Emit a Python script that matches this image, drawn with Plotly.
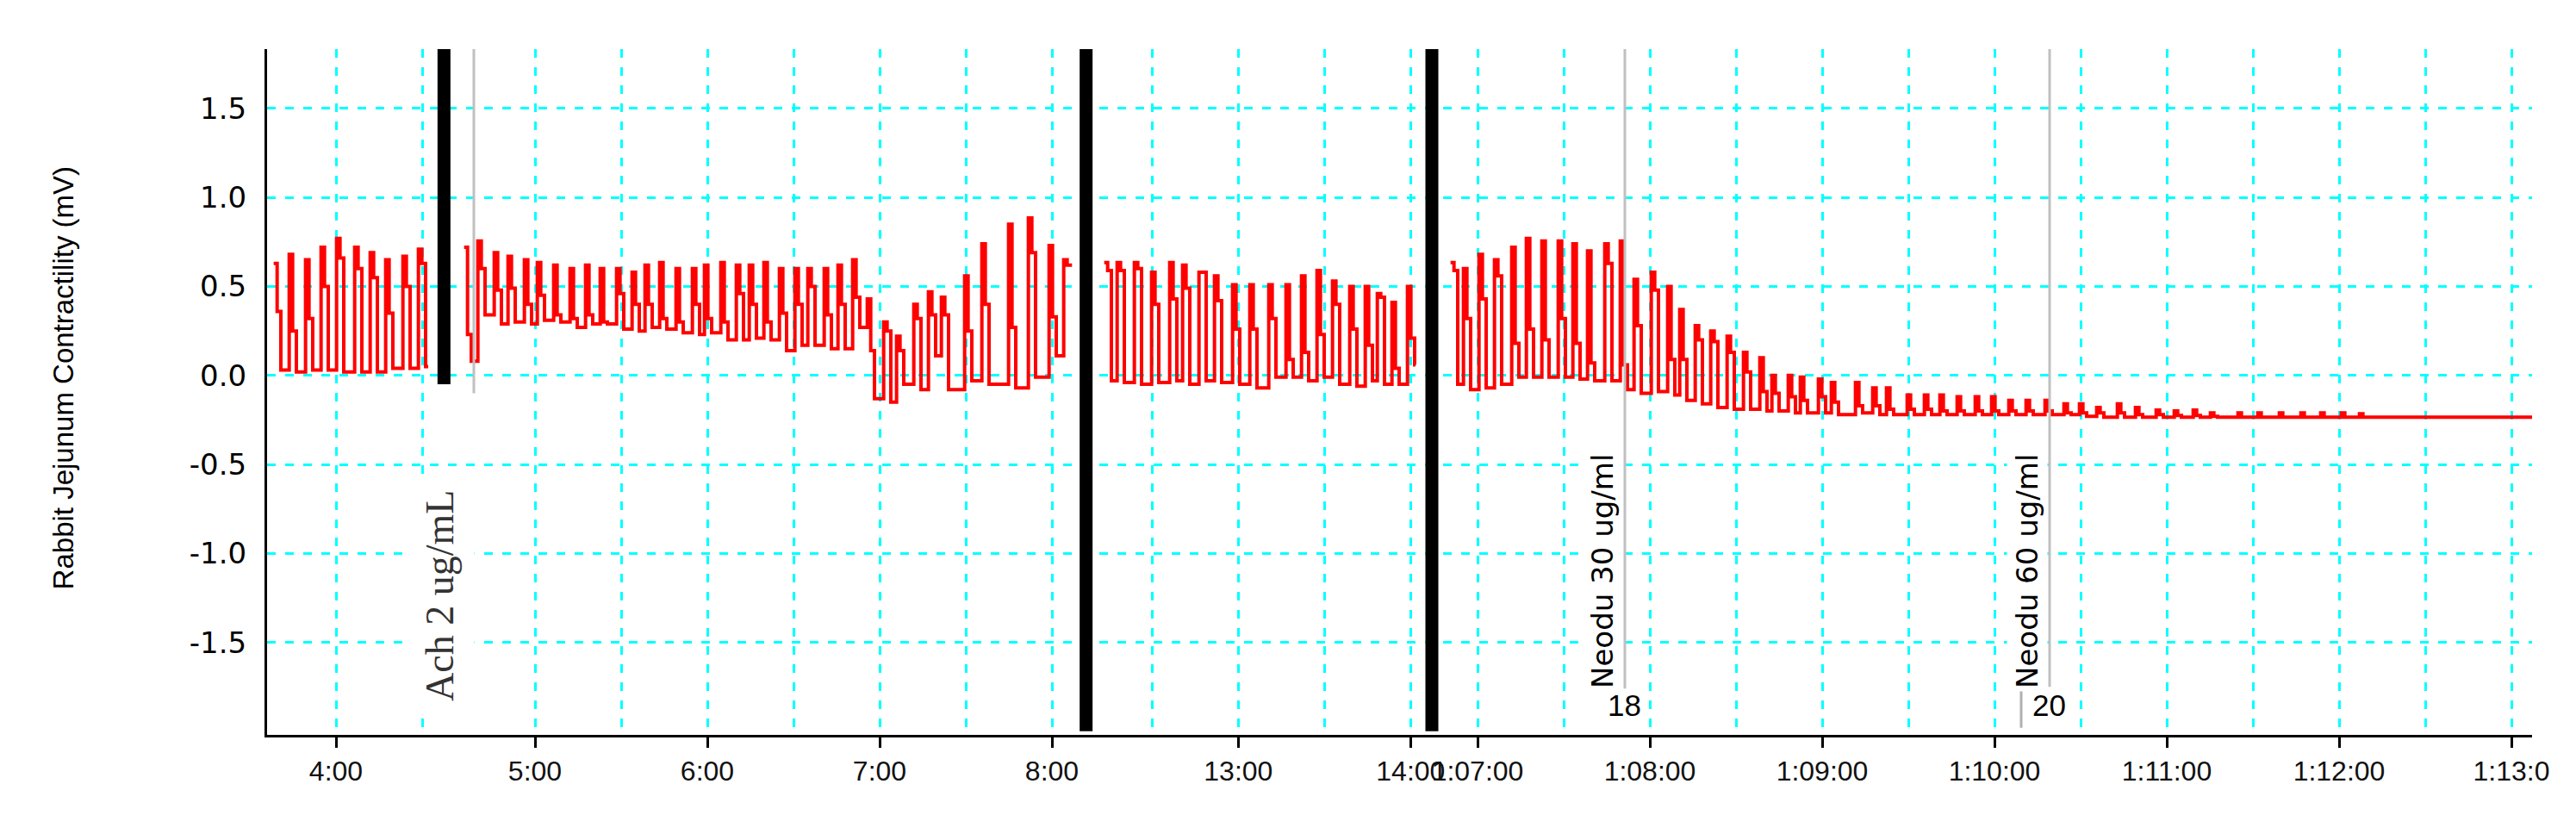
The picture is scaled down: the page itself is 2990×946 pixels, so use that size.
import plotly.graph_objects as go

# ---------------- data ----------------
# Recording segments on a broken time axis. For every contraction: clock time of
# the peak (s), peak amplitude, shoulder after the first fall, trough (mV).
a_peak_t = [219.0, 224.4, 230.1, 235.5, 240.9, 247.2, 252.6, 258.0, 264.0, 269.4]
a_peak_v = [0.63, 0.68, 0.65, 0.72, 0.77, 0.72, 0.69, 0.65, 0.67, 0.71]
a_mid_v = [0.36, 0.25, 0.32, 0.50, 0.66, 0.60, 0.55, 0.35, 0.50, 0.63]
a_low_v = [0.03, 0.02, 0.03, 0.03, 0.02, 0.02, 0.02, 0.04, 0.04, 0.05]

b_peak_t = [276.0, 280.8, 286.5, 291.3, 297.0, 301.5, 307.2, 312.9, 318.3, 323.4,
            329.1, 334.5, 339.0, 344.1, 349.8, 355.5, 359.7, 365.4, 370.8, 375.3,
            380.4, 385.8, 391.2, 395.7, 401.4, 406.2, 411.3, 416.4, 422.1, 426.6,
            432.6, 437.7, 442.2, 450.3, 456.3, 465.6, 472.5, 479.7, 484.8]
b_peak_v = [0.72, 0.756, 0.69, 0.67, 0.65, 0.635, 0.62, 0.60, 0.62, 0.60,
            0.60, 0.58, 0.62, 0.635, 0.60, 0.60, 0.62, 0.635, 0.62, 0.62,
            0.635, 0.60, 0.60, 0.60, 0.60, 0.62, 0.65, 0.43, 0.30, 0.22,
            0.40, 0.47, 0.44, 0.56, 0.74, 0.85, 0.885, 0.73, 0.65]
b_mid_v = [0.23, 0.60, 0.48, 0.49, 0.40, 0.45, 0.34, 0.32, 0.34, 0.30,
           0.46, 0.40, 0.40, 0.32, 0.30, 0.40, 0.32, 0.30, 0.46, 0.40,
           0.30, 0.35, 0.40, 0.50, 0.34, 0.40, 0.44, 0.14, 0.25, 0.14,
           0.32, 0.34, 0.34, 0.25, 0.40, 0.27, 0.69, 0.33, 0.62]
b_low_v = [0.08, 0.34, 0.29, 0.30, 0.29, 0.31, 0.30, 0.27, 0.29, 0.29,
           0.26, 0.25, 0.27, 0.26, 0.24, 0.23, 0.24, 0.20, 0.20, 0.21,
           0.20, 0.14, 0.17, 0.17, 0.15, 0.15, 0.27, -0.13, -0.15, -0.05,
           -0.08, 0.11, -0.08, -0.03, -0.05, -0.07, -0.01, 0.11, 0.62]

c_peak_t = [734.0, 738.5, 744.5, 750.5, 756.8, 761.3, 767.0, 772.4, 778.7, 784.7,
            791.3, 797.3, 802.7, 808.1, 813.5, 819.5, 824.9, 829.1, 834.2, 839.6]
c_peak_v = [0.635, 0.635, 0.635, 0.58, 0.635, 0.62, 0.58, 0.56, 0.51, 0.51,
            0.51, 0.51, 0.56, 0.59, 0.53, 0.50, 0.50, 0.46, 0.41, 0.50]
c_mid_v = [0.59, 0.59, 0.60, 0.40, 0.43, 0.49, 0.58, 0.42, 0.26, 0.26,
           0.32, 0.09, 0.13, 0.23, 0.40, 0.26, 0.17, 0.44, 0.04, 0.21]
c_low_v = [-0.03, -0.04, -0.05, -0.04, -0.03, -0.05, -0.03, -0.04, -0.05, -0.07,
           -0.01, -0.01, -0.03, -0.01, -0.05, -0.06, -0.03, -0.05, -0.05, 0.06]

d_peak_t = [4011.3, 4015.8, 4021.2, 4026.6, 4032.6, 4037.7, 4043.1, 4048.8, 4053.9, 4059.0,
            4065.0, 4070.4, 4075.2, 4081.2, 4086.9, 4091.1, 4096.5, 4101.9, 4107.6, 4113.3,
            4119.0, 4123.2, 4128.9, 4133.1, 4139.4, 4143.9, 4152.3, 4158.3, 4163.1, 4170.3,
            4176.3, 4181.7, 4187.7, 4194.0, 4199.7, 4205.7, 4211.7, 4218.3, 4224.9, 4230.3,
            4236.3, 4243.5, 4249.8, 4257.0, 4263.3, 4269.9, 4275.9, 4285.5, 4292.4, 4299.9,
            4307.4, 4314.3, 4321.5, 4327.8]
d_peak_v = [0.635, 0.60, 0.68, 0.65, 0.72, 0.77, 0.755, 0.755, 0.74, 0.70,
            0.74, 0.755, 0.54, 0.58, 0.50, 0.37, 0.28, 0.25, 0.22, 0.13,
            0.10, 0.0, 0.0, -0.01, -0.02, -0.04, -0.04, -0.07, -0.07, -0.11,
            -0.11, -0.11, -0.12, -0.12, -0.12, -0.14, -0.14, -0.14, -0.16, -0.16,
            -0.18, -0.16, -0.18, -0.195, -0.20, -0.195, -0.21, -0.21, -0.21, -0.21,
            -0.21, -0.21, -0.21, -0.215]
d_mid_v = [0.59, 0.32, 0.43, 0.56, 0.18, 0.26, 0.20, 0.32, 0.18, 0.07,
           0.63, 0.06, 0.28, 0.48, 0.09, 0.09, 0.20, 0.19, 0.13, 0.02,
           -0.09, -0.10, -0.12, -0.14, -0.12, -0.15, -0.17, -0.17, -0.19, -0.19,
           -0.19, -0.20, -0.20, -0.20, -0.20, -0.20, -0.20, -0.20, -0.21, -0.21,
           -0.21, -0.21, -0.22, -0.22, -0.225, -0.225, -0.23, -0.235, -0.235, -0.235,
           -0.235, -0.235, -0.235, -0.235]
d_low_v = [-0.05, -0.08, -0.07, -0.05, -0.01, -0.01, -0.01, -0.01, -0.02, -0.03,
           -0.03, -0.08, -0.10, -0.09, -0.11, -0.14, -0.16, -0.18, -0.19, -0.19,
           -0.20, -0.20, -0.21, -0.21, -0.21, -0.22, -0.21, -0.22, -0.22, -0.22,
           -0.22, -0.22, -0.22, -0.22, -0.22, -0.22, -0.22, -0.22, -0.22, -0.23,
           -0.235, -0.235, -0.235, -0.235, -0.235, -0.235, -0.235, -0.235, -0.235, -0.235,
           -0.235, -0.235, -0.235, -0.235]

segments = {
    "A": (a_peak_t, a_peak_v, a_mid_v, a_low_v),
    "B": (b_peak_t, b_peak_v, b_mid_v, b_low_v),
    "C": (c_peak_t, c_peak_v, c_mid_v, c_low_v),
    "D": (d_peak_t, d_peak_v, d_mid_v, d_low_v),
}
seg_end_t = {"A": 272.1, "B": 487.0, "C": 841.7, "D": 4387.2}      # clock s where trace stops
seg_offset = {"A": -216.0, "B": -206.7, "C": -441.8, "D": -3598.5}  # clock s -> compressed axis s
seg_break_t = {"A": 277.6, "B": 491.9, "C": 847.4}                 # cut after each segment
break_bottom = {"A": -0.05, "B": -2.0, "C": -2.0}

tick_labels = ["4:00", "5:00", "6:00", "7:00", "8:00", "13:00", "14:00",
               "1:07:00", "1:08:00", "1:09:00", "1:10:00", "1:11:00", "1:12:00", "1:13:0"]
tick_seg = ["A", "B", "B", "B", "B", "C", "C", "D", "D", "D", "D", "D", "D", "D"]
tick_clock_s = [240, 300, 360, 420, 480, 780, 840, 4020, 4080, 4140, 4200, 4260, 4320, 4380]
half_seg = ["A", "B", "B", "B", "C", "C", "D", "D", "D", "D", "D", "D"]
half_clock_s = [270, 330, 390, 450, 750, 810, 4050, 4110, 4170, 4230, 4290, 4350]

y_tick_vals = [-1.5, -1.0, -0.5, 0.0, 0.5, 1.0, 1.5]
y_tick_text = ["-1.5", "-1.0", "-0.5", "0.0", "0.5", "1.0", "1.5"]

dose_labels = ["Ach 2 ug/mL", "Neodu 30 ug/ml", "Neodu 60 ug/ml"]
dose_seg = ["B", "D", "D"]
dose_clock_s = [278.7, 4071.3, 4219.2]
dose_line_bottom = [-0.1, -1.76, -1.75]
dose_counter = [None, "18", "20"]

X_RANGE = [0.0, 788.7]
Y_RANGE = [-2.02, 1.834]

CYAN = "#00FFFF"
DASH = "10px,11px"

def disp(seg, t):
    return t + seg_offset[seg]

fig = go.Figure()

# trace: each contraction drawn as peak -> shoulder -> trough steps
for seg, (pt, pv, mv, lv) in segments.items():
    xs, ys = [], []
    for t, p, m, l in zip(pt, pv, mv, lv):
        xs += [disp(seg, t - 0.7), disp(seg, t + 0.5), disp(seg, t + 1.8)]
        ys += [p, m, l]
    xs.append(disp(seg, seg_end_t[seg]))
    ys.append(lv[-1])
    fig.add_trace(go.Scatter(x=xs, y=ys, mode="lines", line_shape="hv",
                             line=dict(color="#FF0000", width=4),
                             showlegend=False, hoverinfo="skip"))

shapes = []
# segment breaks
for seg, t in seg_break_t.items():
    xv = disp(seg, t)
    shapes.append(dict(type="line", xref="x", yref="y", x0=xv, x1=xv,
                       y0=break_bottom[seg], y1=Y_RANGE[1],
                       line=dict(color="black", width=15)))
# dose markers
annotations = []
for lab, seg, t, yb, cnt in zip(dose_labels, dose_seg, dose_clock_s, dose_line_bottom, dose_counter):
    xv = disp(seg, t)
    shapes.append(dict(type="line", xref="x", yref="y", x0=xv, x1=xv, y0=yb, y1=Y_RANGE[1],
                       line=dict(color="#C0C0C0", width=3)))
    if seg == "B":
        annotations.append(dict(x=xv, y=-1.24, xref="x", yref="y", text=lab, textangle=-90,
                                showarrow=False, xshift=-39, xanchor="center", yanchor="middle",
                                font=dict(family="Liberation Serif", size=46, color="#333333"),
                                bgcolor="white", borderpad=14))
    else:
        annotations.append(dict(x=xv, y=-1.10, xref="x", yref="y", text=lab, textangle=-90,
                                showarrow=False, xshift=-26, xanchor="center", yanchor="middle",
                                font=dict(family="DejaVu Sans", size=34, color="black"),
                                bgcolor="white", borderpad=3))
        annotations.append(dict(x=xv, y=-1.853, xref="x", yref="y", text=cnt,
                                showarrow=False, xshift=-1, xanchor="center", yanchor="middle",
                                font=dict(family="Liberation Sans", size=35, color="black")))
# small stub left of the second counter
shapes.append(dict(type="line", xref="x", yref="y", x0=disp("D", 4209.3), x1=disp("D", 4209.3),
                   y0=-1.75, y1=-1.98, line=dict(color="#B0B0B0", width=3)))

annotations.append(dict(x=-0.0901, y=0.521, xref="paper", yref="paper",
                        text="Rabbit Jejunum Contractility (mV)", textangle=-90,
                        showarrow=False, xanchor="center", yanchor="middle",
                        font=dict(family="Liberation Sans", size=33, color="black")))

tick_vals = [disp(s, t) for s, t in zip(tick_seg, tick_clock_s)]
half_vals = [disp(s, t) for s, t in zip(half_seg, half_clock_s)]

fig.update_layout(
    width=2990, height=946,
    margin=dict(l=302, r=59, t=49, b=101),
    paper_bgcolor="white", plot_bgcolor="white",
    showlegend=False,
    shapes=shapes, annotations=annotations,
    xaxis=dict(range=X_RANGE, tickmode="array", tickvals=tick_vals, ticktext=tick_labels,
               tickangle=0, showline=True, linecolor="black", linewidth=3,
               ticks="outside", ticklen=12, tickwidth=3, tickcolor="black",
               ticklabelstandoff=0,
               tickfont=dict(family="Liberation Sans", size=32, color="#111111"),
               showgrid=True, gridcolor=CYAN, gridwidth=3, griddash=DASH,
               minor=dict(tickmode="array", tickvals=half_vals, showgrid=True,
                          gridcolor=CYAN, gridwidth=3, griddash=DASH, ticks=""),
               zeroline=False, fixedrange=True),
    yaxis=dict(range=Y_RANGE, tickmode="array", tickvals=y_tick_vals, ticktext=y_tick_text,
               showline=True, linecolor="black", linewidth=3, ticks="",
               ticklabelstandoff=14,
               tickfont=dict(family="DejaVu Sans", size=34, color="black"),
               showgrid=True, gridcolor=CYAN, gridwidth=3, griddash=DASH,
               zeroline=False, fixedrange=True),
)

fig.write_html("out.html")
